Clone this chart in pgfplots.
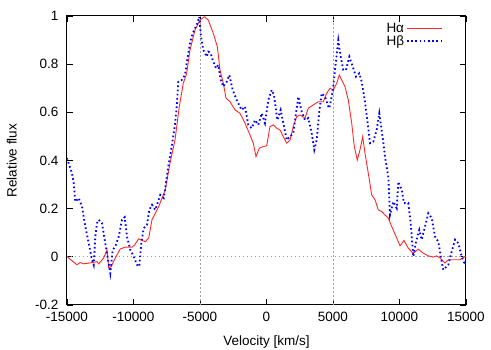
\documentclass[border=0pt]{standalone}
\usepackage{fontspec}
\setmainfont{Liberation Sans}
\usepackage{pgfplots}
\pgfplotsset{compat=1.18}
\definecolor{hared}{RGB}{255,40,40}
\definecolor{hbblue}{RGB}{0,0,255}
\definecolor{gridgray}{RGB}{160,160,160}
\begin{document}
\begin{tikzpicture}[x=1pt,y=1pt]
\begin{axis}[
  scale only axis,
  width=399pt, height=289pt,
  xmin=-15000, xmax=15000, ymin=-0.2, ymax=1,
  xtick={-15000,-10000,-5000,0,5000,10000,15000},
  ytick={-0.2,0,0.2,0.4,0.6,0.8,1},
  scaled x ticks=false, scaled y ticks=false,
  /pgf/number format/assume math mode=true,
  /pgf/number format/1000 sep={},
  yticklabel style={/pgf/number format/fixed, xshift=-5pt},
  xticklabel style={yshift=-4pt},
  font=\fontsize{13.5}{15}\selectfont,
  tick label style={font=\fontsize{13.5}{15}\selectfont},
  tick align=inside,
  major tick length=6pt,
  tick style={black, line width=0.9pt},
  axis line style={black, line width=1pt},
  xlabel={Velocity [km/s]},
  ylabel={Relative flux},
  every axis x label/.style={at={(axis description cs:0.5,-0.128)}, anchor=center},
  every axis y label/.style={at={(axis description cs:-0.1386,0.5)}, rotate=90, anchor=center},
  legend plot pos=right,
  legend cell align=right,
  legend style={draw=none, fill=none, at={(axis description cs:0.945,0.985)}, anchor=north east,
    font=\fontsize{13.5}{13}\selectfont, row sep=-3pt, inner sep=1pt},
  legend image code/.code={\draw[#1] (0pt,0pt) -- (35pt,0pt);},
]
% reference lines
\addplot[gridgray, line width=0.9pt, dash pattern=on 1.5pt off 2.5pt, forget plot] coordinates {(-15000,0) (15000,0)};
\addplot[gridgray, line width=0.9pt, dash pattern=on 1.5pt off 2.5pt, forget plot] coordinates {(-5000,-0.2) (-5000,1)};
\addplot[gridgray, line width=0.9pt, dash pattern=on 1.5pt off 2.5pt, forget plot] coordinates {(5000,-0.2) (5000,1)};
% H alpha
\addplot[hared, line width=0.9pt] coordinates {
(-15000,0.000) (-14873,-0.005) (-14248,-0.033) (-14023,-0.024) (-13745,-0.029)
(-13121,-0.024) (-12745,-0.020) (-12617,-0.029) (-12241,-0.005) (-11993,0.029)
(-11865,-0.046) (-11670,-0.040) (-11369,-0.005) (-10993,0.033) (-10617,0.040)
(-10113,0.040) (-9910,0.050) (-9609,0.075) (-9361,0.068) (-9113,0.063)
(-8857,0.078) (-8609,0.154) (-8105,0.209) (-7609,0.278) (-7256,0.389)
(-6880,0.485) (-6557,0.624) (-6256,0.721) (-6000,0.762) (-5752,0.859)
(-5376,0.942) (-5000,0.983) (-4677,0.997) (-4376,0.983) (-4000,0.928)
(-3699,0.873) (-3496,0.776) (-3248,0.721) (-3045,0.659) (-2744,0.644)
(-2368,0.610) (-1992,0.596) (-1616,0.555) (-1240,0.506) (-993,0.472)
(-790,0.416) (-541,0.451) (-241,0.458) (15,0.461) (263,0.541)
(511,0.548) (767,0.534) (1015,0.527) (1263,0.499) (1519,0.472)
(1767,0.485) (2015,0.541) (2271,0.582) (2519,0.589) (2895,0.576)
(3143,0.617) (3519,0.631) (3895,0.644) (4271,0.644) (4526,0.679)
(4774,0.700) (5023,0.693) (5278,0.721) (5474,0.755) (5654,0.734)
(5902,0.707) (6151,0.651) (6406,0.555) (6602,0.458) (6827,0.402)
(7030,0.444) (7233,0.499) (7406,0.430) (7654,0.347) (7910,0.257)
(8158,0.237) (8406,0.195) (8662,0.188) (8910,0.174) (9158,0.161)
(9414,0.126) (9790,0.078) (10038,0.046) (10339,0.068) (10662,0.036)
(11038,0.015) (11414,0.032) (11790,0.015) (12166,0.004) (12542,-0.001)
(12797,0.004) (13045,-0.005) (13421,-0.026) (13669,-0.012) (14045,-0.012)
(14549,-0.012) (14925,0.001) (15000,0.000)
};
\addlegendentry{Hα}
% H beta
\addplot[hbblue, line width=1.8pt, dash pattern=on 1.6pt off 2.6pt] coordinates {
(-15000,0.410) (-14752,0.368) (-14624,0.347) (-14497,0.306) (-14376,0.229)
(-14121,0.244) (-13873,0.209) (-13624,0.126) (-13369,0.057) (-13121,-0.012)
(-12993,-0.033) (-12873,0.084) (-12745,0.140) (-12617,0.154) (-12369,0.140)
(-12166,0.071) (-11993,0.015) (-11745,-0.068) (-11564,0.029) (-11369,0.043)
(-11113,0.084) (-10865,0.154) (-10662,0.165) (-10489,0.084) (-10241,0.029)
(-9985,0.001) (-9737,-0.033) (-9564,-0.040) (-9414,0.057) (-9233,0.119)
(-8985,0.133) (-8812,0.195) (-8609,0.216) (-8361,0.195) (-8105,0.237)
(-7985,0.257) (-7729,0.244) (-7632,0.278) (-7384,0.375) (-7128,0.458)
(-6880,0.548) (-6752,0.624) (-6632,0.727) (-6376,0.734) (-6128,0.755)
(-6000,0.804) (-5752,0.887) (-5549,0.928) (-5248,0.963) (-5053,0.997)
(-4925,0.914) (-4752,0.859) (-4496,0.831) (-4376,0.852) (-4196,0.845)
(-4045,0.817) (-3797,0.783) (-3624,0.797) (-3444,0.734) (-3248,0.707)
(-2993,0.727) (-2797,0.755) (-2541,0.693) (-2241,0.651) (-1992,0.624)
(-1865,0.610) (-1616,0.624) (-1368,0.548) (-1113,0.534) (-865,0.568)
(-617,0.548) (-361,0.596) (-113,0.555) (135,0.651) (391,0.693)
(564,0.672) (812,0.568) (1068,0.610) (1316,0.541) (1519,0.485)
(1767,0.499) (2015,0.513) (2218,0.596) (2391,0.665) (2647,0.603)
(2895,0.568) (3143,0.576) (3399,0.513) (3594,0.444) (3775,0.485)
(3970,0.603) (4150,0.679) (4399,0.665) (4647,0.624) (4722,0.617)
(4977,0.686) (5150,0.776) (5399,0.900) (5579,0.831) (5774,0.776)
(5977,0.776) (6226,0.831) (6481,0.790) (6730,0.748) (6977,0.762)
(7158,0.727) (7406,0.644) (7654,0.534) (7782,0.472) (8030,0.478)
(8286,0.527) (8481,0.596) (8760,0.485) (8910,0.416) (9158,0.332)
(9286,0.174) (9534,0.229) (9790,0.202) (9910,0.312) (10166,0.278)
(10339,0.223) (10662,0.223) (10842,0.140) (11038,0.001) (11241,0.063)
(11489,0.112) (11670,0.071) (11918,0.126) (12166,0.181) (12421,0.161)
(12669,0.084) (12918,0.063) (13173,-0.020) (13293,-0.054) (13669,-0.033)
(13925,0.022) (14173,0.071) (14421,0.057) (14677,0.001) (14925,-0.033)
(15000,-0.020)
};
\addlegendentry{Hβ}
\end{axis}
\pgfresetboundingbox
\path (-67pt,-45pt) rectangle (424pt,305pt);
\end{tikzpicture}
\end{document}
